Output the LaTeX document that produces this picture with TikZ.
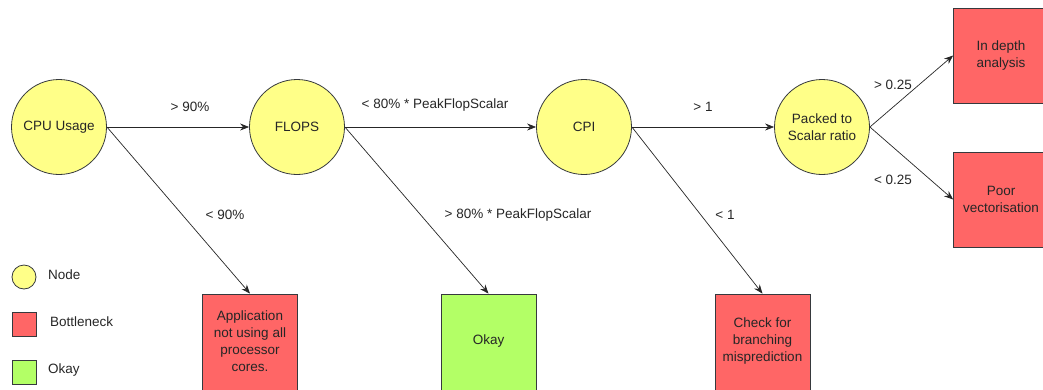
\documentclass[tikz,border=0pt]{standalone}
\usepackage{fontspec}
\setmainfont{Liberation Sans}
\usetikzlibrary{arrows.meta}
\definecolor{nodefill}{HTML}{FFFF88}
\definecolor{badfill}{HTML}{FF6666}
\definecolor{okfill}{HTML}{B3FF66}
\definecolor{edge}{HTML}{36393D}
\begin{document}
\begin{tikzpicture}[x=1pt,y=-1pt,
  every node/.style={font=\fontsize{13.5}{17}\selectfont, text=black!85},
  decision/.style={circle, draw=edge, line width=0.8pt, fill=nodefill, minimum size=95pt, inner sep=0pt, align=center},
  badbox/.style={rectangle, draw=edge, line width=0.8pt, fill=badfill, minimum width=95pt, minimum height=95pt, inner sep=2pt, align=center},
  okbox/.style={rectangle, draw=edge, line width=0.8pt, fill=okfill, minimum width=95pt, minimum height=95pt, inner sep=2pt, align=center},
  conn/.style={draw=black!85, line width=0.7pt, -{Stealth[length=9pt,width=7pt]}},
  lbl/.style={inner sep=0pt}
]
\useasboundingbox (0,0) rectangle (1043,389);
% decision nodes
\node[decision] (cpu) at (59,127) {CPU Usage};
\node[decision] (flops) at (297,127) {FLOPS};
\node[decision] (cpi) at (584,127) {CPI};
\node[decision] (packed) at (822,127) {Packed to\\Scalar ratio};
% outcome boxes (bottom edge runs past the picture)
\node[badbox, minimum height=104pt] (app) at (250,346) {};
\node[okbox, minimum height=104pt] (okay) at (488.5,346) {};
\node[badbox, minimum height=104pt] (check) at (762.5,346) {};
\node[align=center] (appt) at (250,341.5) {Application\\not using all\\processor\\cores.};
\node (okayt) at (488.5,341) {Okay};
\node[align=center] (checkt) at (762.5,341) {Check for\\branching\\misprediction};
\node[badbox] (depth) at (1001,55.5) {In depth\\analysis};
\node[badbox] (poor) at (1001,199.5) {Poor\\vectorisation};
% connectors
\draw[conn] (cpu.east) -- (flops.west);
\draw[conn] (flops.east) -- (cpi.west);
\draw[conn] (cpi.east) -- (packed.west);
\draw[conn] (cpu.east) -- (app.north);
\draw[conn] (flops.east) -- (okay.north);
\draw[conn] (cpi.east) -- (check.north);
\draw[conn] (packed.east) -- (depth.west);
\draw[conn] (packed.east) -- (poor.west);
% edge labels
\node[lbl] (l1) at (190,107) {> 90\%};
\node[lbl] (l2) at (225,215) {< 90\%};
\node[lbl] (l3) at (435,105) {< 80\% * PeakFlopScalar};
\node[lbl] (l4) at (518,215) {> 80\% * PeakFlopScalar};
\node[lbl] (l5) at (703,107) {> 1};
\node[lbl] (l6) at (725,215) {< 1};
\node[lbl] (l7) at (893,85) {> 0.25};
\node[lbl] (l8) at (893,180) {< 0.25};
% legend
\node[circle, draw=edge, line width=0.8pt, fill=nodefill, minimum size=24pt, inner sep=0pt] (lgnode) at (24,277) {};
\node[rectangle, draw=edge, line width=0.8pt, fill=badfill, minimum size=24pt, inner sep=0pt] (lgbad) at (24,324.5) {};
\node[rectangle, draw=edge, line width=0.8pt, fill=okfill, minimum size=24pt, inner sep=0pt] (lgok) at (24,372.5) {};
\node[lbl, anchor=west] (lgnodet) at (48,275) {Node};
\node[lbl, anchor=west] (lgbadt) at (50,322) {Bottleneck};
\node[lbl, anchor=west] (lgokt) at (48,370) {Okay};
\end{tikzpicture}
\end{document}
